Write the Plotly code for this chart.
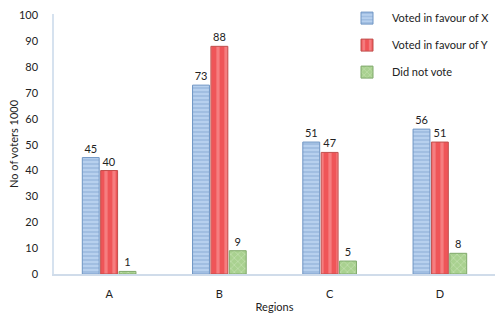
import plotly.graph_objects as go

regions = ["A", "B", "C", "D"]
voted_x = [45, 73, 51, 56]
voted_y = [40, 88, 47, 51]
did_not_vote = [1, 9, 5, 8]
y_ticks = list(range(0, 101, 10))

font = "Lato, 'Open Sans', sans-serif"

fig = go.Figure()
fig.add_bar(
    x=regions, y=voted_x, name="Voted in favour of X", legendgroup="x",
    text=voted_x, textposition="outside", cliponaxis=False,
    marker=dict(color="#b4cdea", line=dict(color="#6f95c4", width=1),
                pattern=dict(shape="-", fgcolor="#5f87bd", bgcolor="#b7d0ee", size=4, solidity=0.25)),
)
fig.add_bar(
    x=regions, y=voted_y, name="Voted in favour of Y", legendgroup="y",
    text=voted_y, textposition="outside", cliponaxis=False,
    marker=dict(color="#f26b6e", line=dict(color="#c0504d", width=1),
                pattern=dict(shape="|", fgcolor="#fba7a8", bgcolor="#ef5558", size=8, solidity=0.4)),
)
fig.add_bar(
    x=regions, y=did_not_vote, name="Did not vote", legendgroup="n",
    text=did_not_vote, textposition="outside", cliponaxis=False,
    marker=dict(color="#b5d89e", line=dict(color="#7fa86a", width=1),
                pattern=dict(shape="x", fgcolor="#d6ebc8", bgcolor="#a9d190", size=5, solidity=0.3)),
)

fig.update_traces(textfont=dict(family=font, size=11, color="#222"))

fig.update_layout(
    width=500, height=322,
    margin=dict(l=54, r=5, t=14, b=48, autoexpand=False),
    paper_bgcolor="white", plot_bgcolor="white",
    barmode="group", bargap=0.5, bargroupgap=0.08,
    font=dict(family=font, size=11, color="#222"),
    showlegend=True,
    legend=dict(x=1.0, y=1.04, xanchor="right", yanchor="top",
                font=dict(size=11), traceorder="grouped", tracegroupgap=8,
                itemwidth=40, bgcolor="rgba(0,0,0,0)"),
    xaxis=dict(title=dict(text="Regions", font=dict(size=11), standoff=4),
               showline=True, linecolor="#d0dcea", linewidth=1.5, automargin=False,
               ticks="", ticklabelstandoff=9, tickfont=dict(size=11)),
    yaxis=dict(range=[0, 100.5], tickvals=y_ticks, showgrid=False, automargin=False,
               showline=True, linecolor="#d6e2ef", linewidth=1.5,
               ticks="", ticklabelstandoff=12, tickfont=dict(size=11), zeroline=False),
    annotations=[dict(text="No of voters 1000", xref="paper", yref="paper",
                      x=0, y=0.5, xshift=-41, xanchor="center", yanchor="middle",
                      textangle=-90, showarrow=False, font=dict(size=11))],
)

fig.write_html("out.html")
